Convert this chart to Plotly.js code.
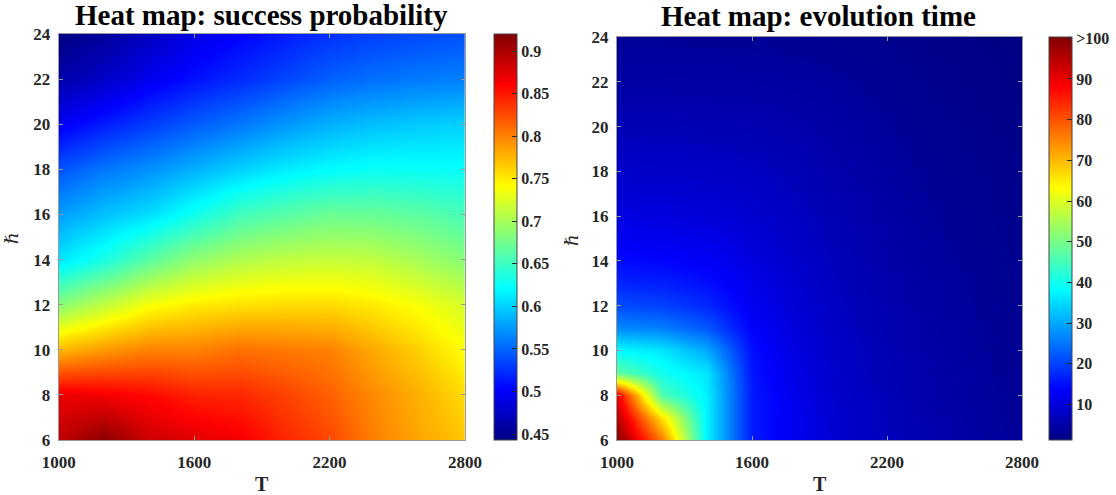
<!DOCTYPE html>
<html>
<head>
<meta charset="utf-8">
<script src="https://cdn.plot.ly/plotly-3.0.1.min.js"></script>
<style>html,body{margin:0;padding:0;background:#fff;} #chart{width:1116px;height:495px;}</style>
</head>
<body>
<div id="chart"></div>
<script>
// ---- data ----
const T = [1000, 1200, 1400, 1600, 1800, 2000, 2200, 2400, 2600, 2800];
const hbarP = [6, 8, 10, 12, 14, 16, 18, 20, 22, 24];
const successProb = [
  [0.890, 0.915, 0.885, 0.875, 0.865, 0.843, 0.827, 0.800, 0.782, 0.768],
  [0.870, 0.865, 0.857, 0.845, 0.842, 0.830, 0.815, 0.795, 0.778, 0.757],
  [0.775, 0.789, 0.800, 0.800, 0.808, 0.804, 0.800, 0.780, 0.762, 0.740],
  [0.686, 0.713, 0.738, 0.750, 0.755, 0.758, 0.758, 0.750, 0.738, 0.722],
  [0.611, 0.634, 0.665, 0.690, 0.705, 0.712, 0.715, 0.712, 0.700, 0.685],
  [0.576, 0.593, 0.606, 0.629, 0.652, 0.663, 0.672, 0.670, 0.665, 0.655],
  [0.541, 0.558, 0.570, 0.585, 0.600, 0.613, 0.621, 0.626, 0.625, 0.624],
  [0.497, 0.515, 0.530, 0.545, 0.558, 0.573, 0.585, 0.592, 0.597, 0.600],
  [0.462, 0.476, 0.495, 0.510, 0.522, 0.535, 0.548, 0.555, 0.560, 0.563],
  [0.443, 0.455, 0.472, 0.490, 0.503, 0.515, 0.525, 0.532, 0.537, 0.540]
];
const hbarE = [6, 7, 8, 9, 10, 11, 12, 13, 14, 15, 16, 17, 18, 19, 20, 21, 22, 23, 24];
const evolTime = [
  [100, 76, 37, 16, 12, 8.7, 7.0, 5.5, 4.2, 3.2],
  [95, 66, 37, 16, 12, 8.5, 6.8, 5.3, 4.1, 3.1],
  [90, 46, 37, 16, 11.5, 8.3, 6.6, 5.2, 4.0, 3.0],
  [48, 40, 36, 15.5, 11, 8.0, 6.4, 5.0, 3.9, 2.9],
  [38, 36, 30, 15, 10.5, 7.8, 6.2, 4.8, 3.8, 2.8],
  [27, 26, 22, 13.5, 10, 7.5, 6.0, 4.6, 3.6, 2.7],
  [21, 20, 17.5, 12.5, 9.5, 7.2, 5.7, 4.4, 3.5, 2.6],
  [17, 16.5, 15, 11.5, 9, 6.9, 5.4, 4.2, 3.3, 2.5],
  [14.5, 14, 13, 10.5, 8.5, 6.6, 5.1, 4.0, 3.2, 2.4],
  [12.5, 12, 11.5, 9.8, 8, 6.3, 4.9, 3.8, 3.0, 2.3],
  [11, 10.5, 10, 9, 7.5, 6.0, 4.7, 3.6, 2.9, 2.2],
  [9.5, 9.2, 9, 8.2, 7, 5.6, 4.4, 3.4, 2.7, 2.1],
  [8.5, 8.2, 8, 7.5, 6.5, 5.3, 4.2, 3.2, 2.6, 2.0],
  [7.5, 7.3, 7.1, 6.7, 6, 4.9, 3.9, 3.0, 2.4, 1.9],
  [6.5, 6.4, 6.2, 6, 5.4, 4.5, 3.6, 2.8, 2.3, 1.8],
  [5.6, 5.5, 5.4, 5.2, 4.8, 4.1, 3.3, 2.6, 2.1, 1.7],
  [4.8, 4.7, 4.6, 4.5, 4.2, 3.7, 3.0, 2.4, 2.0, 1.6],
  [4.0, 4.0, 3.9, 3.8, 3.6, 3.2, 2.7, 2.2, 1.9, 1.5],
  [3.3, 3.3, 3.2, 3.2, 3.0, 2.8, 2.4, 2.0, 1.7, 1.4]
];
const xTicks = [1000, 1600, 2200, 2800];
const yTicks = [6, 8, 10, 12, 14, 16, 18, 20, 22, 24];
const cb1Vals = [0.45, 0.5, 0.55, 0.6, 0.65, 0.7, 0.75, 0.8, 0.85, 0.9];
const cb1Text = ['0.45', '0.5', '0.55', '0.6', '0.65', '0.7', '0.75', '0.8', '0.85', '0.9'];
const cb2Vals = [10, 20, 30, 40, 50, 60, 70, 80, 90, 100];
const cb2Text = ['10', '20', '30', '40', '50', '60', '70', '80', '90', '>100'];
const titles = ['Heat map: success probability', 'Heat map: evolution time'];

// ---- style ----
const W = 1116, H = 495;
const jet = [[0, 'rgb(0,0,131)'], [0.125, 'rgb(0,0,255)'], [0.375, 'rgb(0,255,255)'],
             [0.625, 'rgb(255,255,0)'], [0.875, 'rgb(255,0,0)'], [1, 'rgb(128,0,0)']];
const serif = 'Liberation Serif, Times New Roman, DejaVu Serif, serif';
const tickFont = {family: serif, size: 17, color: '#262626', weight: 'bold'};
const cbFont = {family: serif, size: 16, color: '#262626', weight: 'bold'};

function px(x) { return x / W; }
function py(y) { return 1 - y / H; }

const p1 = {l: 58.7, r: 465, t: 34, b: 440};
const p2 = {l: 617, r: 1022, t: 37, b: 440};

function cbar(x0, p, vals, text) {
  return {
    x: px(x0), xanchor: 'left', xpad: 0,
    y: py(p.b), yanchor: 'bottom', ypad: 0,
    len: (p.b - p.t) / H, lenmode: 'fraction',
    thickness: 23, thicknessmode: 'pixels',
    outlinewidth: 1, outlinecolor: '#444',
    tickmode: 'array', tickvals: vals, ticktext: text,
    ticks: 'inside', ticklen: 5, tickcolor: '#262626', tickwidth: 1,
    tickfont: cbFont
  };
}

const data = [
  {
    type: 'heatmap', x: T, y: hbarP, z: successProb,
    colorscale: jet, zmin: 0.443, zmax: 0.92, zsmooth: 'best',
    xaxis: 'x', yaxis: 'y', hoverinfo: 'skip',
    colorbar: cbar(494, p1, cb1Vals, cb1Text)
  },
  {
    type: 'heatmap', x: T, y: hbarE, z: evolTime,
    colorscale: jet, zmin: 1.3, zmax: 100.3, zsmooth: 'best',
    xaxis: 'x2', yaxis: 'y2', hoverinfo: 'skip',
    colorbar: cbar(1049, p2, cb2Vals, cb2Text)
  }
];

function xax(p) {
  return {
    domain: [px(p.l), px(p.r)], range: [1000, 2800], tickmode: 'array', tickvals: xTicks,
    ticks: 'inside', ticklen: 4, tickcolor: '#999', showline: true, linecolor: '#999', mirror: 'ticks',
    showgrid: false, zeroline: false, tickfont: tickFont, ticklabelstandoff: 7
  };
}
function yax(p, anchor) {
  return {
    domain: [py(p.b), py(p.t)], range: [6, 24], tickmode: 'array', tickvals: yTicks,
    ticks: 'inside', ticklen: 4, tickcolor: '#999', showline: true, linecolor: '#999', mirror: 'ticks',
    showgrid: false, zeroline: false, tickfont: tickFont, ticklabelstandoff: 4, anchor: anchor
  };
}

const x1 = xax(p1); x1.anchor = 'y';
const x2 = xax(p2); x2.anchor = 'y2';

const titleFont = {family: serif, size: 29, color: '#000', weight: 'bold'};
const labFont = {family: serif, size: 20, color: '#262626', weight: 'bold'};
const hFont = {family: serif, size: 18, color: '#262626', style: 'italic'};

const annotations = [
  {text: titles[0], x: px((p1.l + p1.r) / 2), y: py(15), font: titleFont},
  {text: titles[1], x: px(818.5), y: py(16), font: titleFont},
  {text: 'T', x: px((p1.l + p1.r) / 2), y: py(484), font: labFont},
  {text: 'T', x: px((p2.l + p2.r) / 2), y: py(484), font: labFont},
  {text: 'ℏ', x: px(12), y: py(238), font: hFont, textangle: -90},
  {text: 'ℏ', x: px(572), y: py(240), font: hFont, textangle: -90}
].map(a => Object.assign({xref: 'paper', yref: 'paper', showarrow: false, xanchor: 'center', yanchor: 'middle'}, a));

const layout = {
  width: W, height: H,
  margin: {l: 0, r: 0, t: 0, b: 0},
  paper_bgcolor: '#fff', plot_bgcolor: '#fff',
  showlegend: false,
  xaxis: x1, yaxis: yax(p1, 'x'),
  xaxis2: x2, yaxis2: yax(p2, 'x2'),
  annotations: annotations
};

Plotly.newPlot('chart', data, layout, {staticPlot: true, displayModeBar: false});
</script>
</body>
</html>
